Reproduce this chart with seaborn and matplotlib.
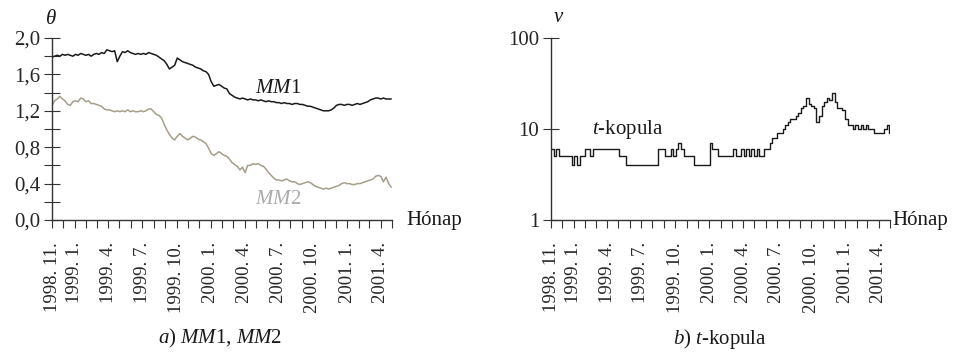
import numpy as np
import pandas as pd
import matplotlib
matplotlib.use("Agg")
import matplotlib.pyplot as plt
import matplotlib.dates as mdates
from matplotlib.ticker import NullLocator
import seaborn as sns

# Weekly parameter estimates, starting 1998-11-01
start_date = "1998-11-01"

mm1 = [
    1.79, 1.80, 1.81, 1.80, 1.82, 1.81, 1.82, 1.81, 1.80, 1.82,
    1.81, 1.83, 1.82, 1.81, 1.82, 1.80, 1.82, 1.83, 1.82, 1.84,
    1.83, 1.87, 1.86, 1.85, 1.86, 1.74, 1.80, 1.85, 1.84, 1.86,
    1.84, 1.83, 1.82, 1.83, 1.82, 1.83, 1.82, 1.84, 1.83, 1.82,
    1.81, 1.79, 1.77, 1.75, 1.71, 1.66, 1.68, 1.70, 1.78, 1.76,
    1.74, 1.73, 1.72, 1.71, 1.70, 1.68, 1.67, 1.66, 1.64, 1.63,
    1.60, 1.52, 1.47, 1.48, 1.49, 1.47, 1.45, 1.44, 1.39, 1.37,
    1.35, 1.34, 1.33, 1.34, 1.33, 1.32, 1.33, 1.32, 1.32, 1.31,
    1.32, 1.31, 1.30, 1.31, 1.30, 1.30, 1.29, 1.29, 1.28, 1.29,
    1.28, 1.28, 1.27, 1.28, 1.28, 1.27, 1.27, 1.26, 1.25, 1.25,
    1.24, 1.23, 1.22, 1.21, 1.20, 1.20, 1.20, 1.21, 1.23, 1.26,
    1.27, 1.27, 1.26, 1.27, 1.27, 1.26, 1.27, 1.28, 1.27, 1.28,
    1.29, 1.30, 1.32, 1.33, 1.34, 1.34, 1.33, 1.34, 1.33, 1.33,
    1.33,
]

mm2 = [
    1.26, 1.31, 1.33, 1.36, 1.33, 1.31, 1.27, 1.26, 1.30, 1.31,
    1.30, 1.34, 1.33, 1.30, 1.31, 1.28, 1.28, 1.27, 1.26, 1.25,
    1.22, 1.21, 1.21, 1.20, 1.19, 1.20, 1.19, 1.20, 1.19, 1.21,
    1.19, 1.20, 1.19, 1.19, 1.20, 1.19, 1.20, 1.22, 1.22, 1.19,
    1.16, 1.15, 1.12, 1.05, 0.99, 0.94, 0.90, 0.88, 0.92, 0.95,
    0.92, 0.90, 0.88, 0.90, 0.92, 0.91, 0.89, 0.88, 0.86, 0.84,
    0.79, 0.73, 0.71, 0.73, 0.75, 0.73, 0.71, 0.70, 0.67, 0.63,
    0.61, 0.59, 0.55, 0.58, 0.52, 0.60, 0.60, 0.62, 0.61, 0.62,
    0.60, 0.59, 0.56, 0.52, 0.49, 0.46, 0.44, 0.44, 0.43, 0.44,
    0.45, 0.43, 0.42, 0.42, 0.40, 0.39, 0.40, 0.41, 0.42, 0.41,
    0.39, 0.37, 0.36, 0.35, 0.34, 0.35, 0.34, 0.35, 0.36, 0.37,
    0.38, 0.40, 0.41, 0.40, 0.40, 0.39, 0.39, 0.40, 0.40, 0.41,
    0.42, 0.43, 0.44, 0.45, 0.48, 0.49, 0.48, 0.42, 0.47, 0.40,
    0.36,
]

nu = [
    6, 5, 6, 5, 5, 5, 5, 5, 4, 5,
    4, 5, 5, 6, 6, 5, 6, 6, 6, 6,
    6, 6, 6, 6, 6, 6, 5, 5, 5, 4,
    4, 4, 4, 4, 4, 4, 4, 4, 4, 4,
    4, 6, 6, 6, 5, 5, 6, 5, 6, 7,
    6, 5, 5, 5, 5, 4, 4, 4, 4, 4,
    4, 7, 6, 6, 5, 5, 5, 5, 5, 5,
    6, 5, 5, 6, 5, 6, 5, 6, 5, 6,
    5, 5, 6, 6, 7, 8, 8, 9, 9, 10,
    11, 12, 13, 13, 14, 15, 17, 18, 22, 19,
    18, 17, 12, 14, 18, 20, 22, 21, 25, 20,
    17, 17, 16, 13, 11, 11, 10, 11, 10, 11,
    10, 11, 10, 10, 9, 9, 9, 9, 10, 11,
    9,
]

month_labels = {
    "1998-11": "1998. 11.", "1999-01": "1999. 1.", "1999-04": "1999. 4.",
    "1999-07": "1999. 7.", "1999-10": "1999. 10.", "2000-01": "2000. 1.",
    "2000-04": "2000. 4.", "2000-07": "2000. 7.", "2000-10": "2000. 10.",
    "2001-01": "2001. 1.", "2001-04": "2001. 4.",
}
theta_ticks = [0.0, 0.2, 0.4, 0.6, 0.8, 1.0, 1.2, 1.4, 1.6, 1.8, 2.0]
theta_labels = ["0,0", "", "0,4", "", "0,8", "", "1,2", "", "1,6", "", "2,0"]
nu_ticks = [1, 10, 100]
nu_labels = ["1", "10", "100"]

dates = pd.date_range(start_date, periods=len(mm1), freq="7D")
months = pd.date_range("1998-11-01", "2001-05-01", freq="MS")
month_tick_labels = [month_labels.get(m.strftime("%Y-%m"), "") for m in months]

sns.set_theme(style="ticks")
plt.rcParams["font.family"] = ["Liberation Serif", "DejaVu Serif"]
plt.rcParams["mathtext.fontset"] = "custom"
plt.rcParams["mathtext.rm"] = "Liberation Serif"
plt.rcParams["mathtext.it"] = "Liberation Serif:italic"

INK = "#1a1a1a"
AXIS = "#333333"
MM2_COLOR = "#a59e8a"
TICK_FS = 13.5
TEXT_FS = 15

fig = plt.figure(figsize=(9.56, 3.52), dpi=100)
ax1 = fig.add_axes([52 / 956, 132 / 352, 340 / 956, 182 / 352])
ax2 = fig.add_axes([551 / 956, 132 / 352, 339 / 956, 182 / 352])

df = pd.DataFrame({"date": dates, "MM1": mm1, "MM2": mm2, "nu": nu})

sns.lineplot(data=df, x="date", y="MM1", ax=ax1, color=INK, linewidth=1.1)
sns.lineplot(data=df, x="date", y="MM2", ax=ax1, color=MM2_COLOR, linewidth=1.1)
sns.lineplot(data=df, x="date", y="nu", ax=ax2, color=INK, linewidth=1.0,
             drawstyle="steps-post")

month_nums = mdates.date2num(months.to_pydatetime())
for ax in (ax1, ax2):
    ax.set_xlim(month_nums[0], month_nums[-1])
    ax.set_xticks(month_nums)
    ax.set_xticklabels(month_tick_labels, rotation=90, fontsize=TICK_FS,
                       va="top", ha="center")
    ax.tick_params(axis="x", direction="out", length=6, width=0.8,
                   color=AXIS, pad=10)
    ax.tick_params(axis="y", direction="inout", length=11, width=0.8,
                   color=AXIS, pad=3, labelsize=TEXT_FS)
    ax.set_xlabel("")
    ax.set_ylabel("")
    for side in ("top", "right"):
        ax.spines[side].set_visible(False)
    for side in ("left", "bottom"):
        ax.spines[side].set_color(AXIS)
        ax.spines[side].set_linewidth(1.0)
    ax.annotate("Hónap", xy=(1, 0), xycoords="axes fraction",
                xytext=(14 if ax is ax1 else 2, 0), textcoords="offset pixels",
                ha="left", va="center", fontsize=TEXT_FS, color=INK)

ax1.set_ylim(0, 2.0)
ax1.set_yticks(theta_ticks)
ax1.set_yticklabels(theta_labels)

ax2.set_yscale("log")
ax2.set_ylim(1, 100)
ax2.set_yticks(nu_ticks)
ax2.set_yticklabels(nu_labels)
ax2.yaxis.set_minor_locator(NullLocator())

# Series labels
ax1.text(0.597, 0.725, r"$\mathit{MM}$1", transform=ax1.transAxes,
         ha="left", va="center", fontsize=TEXT_FS, color=INK)
ax1.text(0.597, 0.11, r"$\mathit{MM2}$", transform=ax1.transAxes,
         ha="left", va="center", fontsize=TEXT_FS, color="#ababab")
ax2.text(0.121, 0.495, r"$t$-kopula", transform=ax2.transAxes,
         ha="left", va="center", fontsize=TEXT_FS, color=INK)

# Axis symbols
fig.text(51 / 956, 1 - 20 / 352, "θ", ha="center", va="center",
         fontsize=TEXT_FS, style="italic", color=INK)
fig.text(558 / 956, 1 - 17 / 352, "ν", ha="center", va="center",
         fontsize=TEXT_FS, style="italic", color=INK)

# Panel captions
fig.text(220 / 956, 1 - 338 / 352, r"$\mathit{a)\ MM}$1, $\mathit{MM2}$",
         ha="center", va="center", fontsize=TEXT_FS, color=INK)
fig.text(720 / 956, 1 - 339 / 352, r"$\mathit{b)\ t}$-kopula",
         ha="center", va="center", fontsize=TEXT_FS, color=INK)

fig.savefig("out.png", dpi=100, facecolor="white")
